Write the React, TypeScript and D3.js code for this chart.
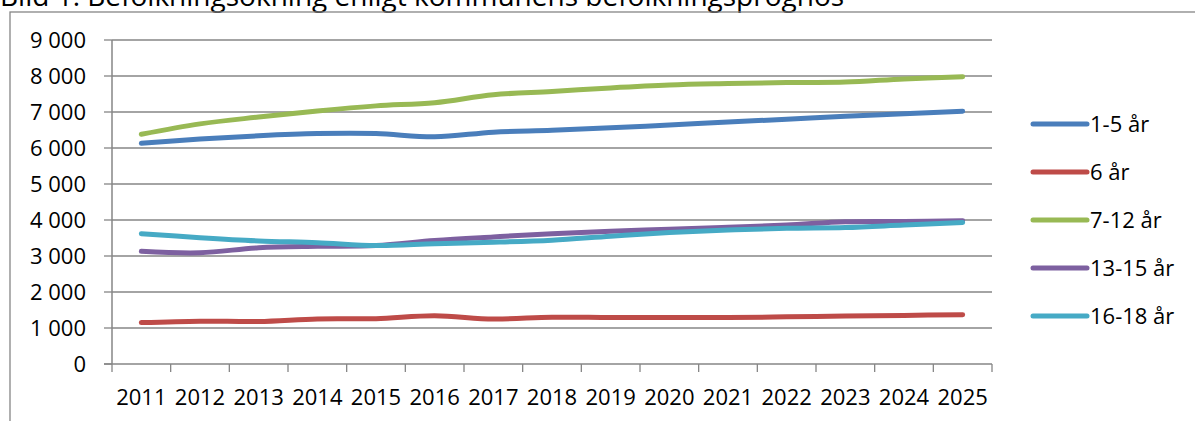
import React, { useEffect, useRef } from "react"
import * as d3 from "d3"

const years = ["2011", "2012", "2013", "2014", "2015", "2016", "2017", "2018", "2019", "2020", "2021", "2022", "2023", "2024", "2025"]

const yTicks = [0, 1000, 2000, 3000, 4000, 5000, 6000, 7000, 8000, 9000]

const seriesNames = ["1-5 år", "6 år", "7-12 år", "13-15 år", "16-18 år"]
const seriesColors = ["#4A7EBB", "#BE4B48", "#98B954", "#7D60A0", "#46AAC5"]

const age1to5 = [6130, 6250, 6340, 6400, 6400, 6310, 6440, 6490, 6560, 6640, 6720, 6800, 6880, 6950, 7020]
const age6 = [1150, 1190, 1180, 1250, 1260, 1340, 1250, 1300, 1290, 1290, 1290, 1310, 1330, 1350, 1370]
const age7to12 = [6380, 6670, 6860, 7030, 7170, 7260, 7480, 7570, 7670, 7750, 7790, 7820, 7830, 7920, 7980]
const age13to15 = [3130, 3090, 3230, 3270, 3290, 3430, 3530, 3620, 3690, 3740, 3800, 3860, 3950, 3960, 3980]
const age16to18 = [3620, 3510, 3420, 3370, 3290, 3340, 3380, 3440, 3550, 3650, 3720, 3770, 3790, 3860, 3930]

const title = "Bild 1. Befolkningsökning enligt kommunens befolkningsprognos"

const FONT = "'Open Sans', 'Noto Sans', sans-serif"
const GREY = "#868686"

export default function App() {
  const ref = useRef<SVGSVGElement>(null)

  useEffect(() => {
    if (!ref.current) return
    const svg = d3.select(ref.current)
    svg.selectAll("*").remove()

    const width = 1195
    const height = 421
    const plot = { left: 112, right: 992, top: 40, bottom: 364 }

    svg.append("rect").attr("width", width).attr("height", height).attr("fill", "#fff")

    // title sits above the frame, its upper half falls outside the picture
    svg
      .append("text")
      .attr("x", 0)
      .attr("y", 6)
      .attr("font-family", FONT)
      .attr("font-size", 28)
      .attr("fill", "#000")
      .text(title)

    // chart frame
    svg
      .append("rect")
      .attr("x", 10)
      .attr("y", 12)
      .attr("width", 1300)
      .attr("height", 600)
      .attr("fill", "none")
      .attr("stroke", GREY)
      .attr("stroke-width", 1.3)

    const x = d3.scaleBand<string>().domain(years).range([plot.left, plot.right]).padding(0)
    const y = d3.scaleLinear().domain([0, 9000]).range([plot.bottom, plot.top])

    // gridlines
    svg
      .append("g")
      .selectAll("line")
      .data(yTicks.filter((d) => d > 0))
      .enter()
      .append("line")
      .attr("x1", plot.left)
      .attr("x2", plot.right)
      .attr("y1", (d) => y(d))
      .attr("y2", (d) => y(d))
      .attr("stroke", GREY)
      .attr("stroke-width", 1.3)

    // y axis ticks + labels
    const yAxis = svg.append("g")
    yAxis
      .selectAll("line")
      .data(yTicks)
      .enter()
      .append("line")
      .attr("x1", plot.left - 8)
      .attr("x2", plot.left)
      .attr("y1", (d) => y(d))
      .attr("y2", (d) => y(d))
      .attr("stroke", GREY)
      .attr("stroke-width", 1.3)
    yAxis
      .selectAll("text")
      .data(yTicks)
      .enter()
      .append("text")
      .attr("x", 86)
      .attr("y", (d) => y(d) + 7.5)
      .attr("text-anchor", "end")
      .attr("font-family", FONT)
      .attr("font-size", 22)
      .attr("fill", "#000")
      .text((d) => d3.format(",")(d).replace(/,/g, " "))

    svg
      .append("line")
      .attr("x1", plot.left)
      .attr("x2", plot.left)
      .attr("y1", plot.top)
      .attr("y2", plot.bottom)
      .attr("stroke", GREY)
      .attr("stroke-width", 1.5)

    // x axis
    svg
      .append("line")
      .attr("x1", plot.left - 8)
      .attr("x2", plot.right)
      .attr("y1", plot.bottom)
      .attr("y2", plot.bottom)
      .attr("stroke", GREY)
      .attr("stroke-width", 1.5)

    const bounds = years.map((yr) => x(yr)!).concat([plot.right])
    svg
      .append("g")
      .selectAll("line")
      .data(bounds)
      .enter()
      .append("line")
      .attr("x1", (d) => d)
      .attr("x2", (d) => d)
      .attr("y1", plot.bottom)
      .attr("y2", plot.bottom + 8)
      .attr("stroke", GREY)
      .attr("stroke-width", 1.3)

    svg
      .append("g")
      .selectAll("text")
      .data(years)
      .enter()
      .append("text")
      .attr("x", (d) => x(d)! + x.bandwidth() / 2)
      .attr("y", 405)
      .attr("text-anchor", "middle")
      .attr("font-family", FONT)
      .attr("font-size", 22)
      .attr("fill", "#000")
      .text((d) => d)

    // series
    const allSeries = [age1to5, age6, age7to12, age13to15, age16to18]
    const line = d3
      .line<number>()
      .x((_, i) => x(years[i])! + x.bandwidth() / 2)
      .y((d) => y(d))
      .curve(d3.curveCatmullRom.alpha(0.5))

    const lines = svg.append("g").attr("class", "lines")
    allSeries.forEach((vals, i) => {
      lines
        .append("path")
        .attr("d", line(vals))
        .attr("fill", "none")
        .attr("stroke", seriesColors[i])
        .attr("stroke-width", 5)
        .attr("stroke-linecap", "round")
        .attr("stroke-linejoin", "round")
    })

    // legend
    const legend = svg.append("g").attr("class", "legend")
    seriesNames.forEach((name, i) => {
      const ly = 124 + i * 48
      legend
        .append("line")
        .attr("x1", 1033)
        .attr("x2", 1087)
        .attr("y1", ly)
        .attr("y2", ly)
        .attr("stroke", seriesColors[i])
        .attr("stroke-width", 5)
        .attr("stroke-linecap", "round")
      legend
        .append("text")
        .attr("x", 1090)
        .attr("y", ly + 8)
        .attr("font-family", FONT)
        .attr("font-size", 22)
        .attr("fill", "#000")
        .text(name)
    })
  }, [])

  return (
    <svg
      ref={ref}
      width={1195}
      height={421}
      style={{ position: "absolute", left: 0, top: 0, display: "block" }}
    />
  )
}
